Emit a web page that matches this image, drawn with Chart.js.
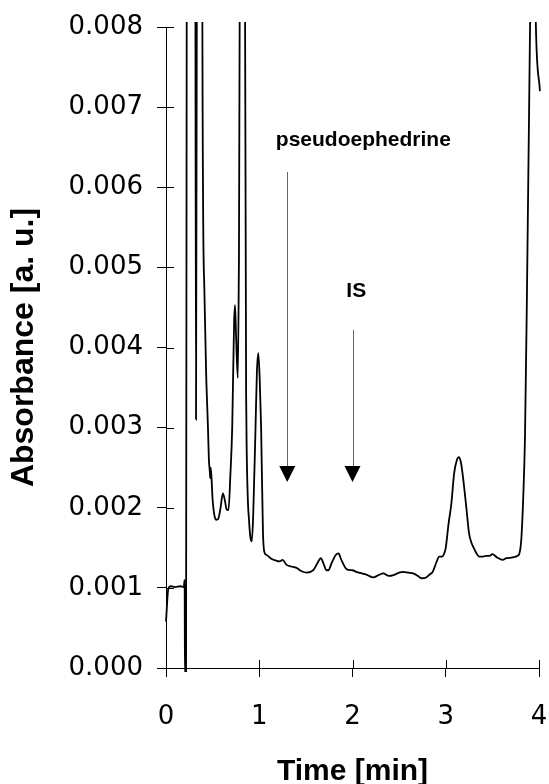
<!DOCTYPE html>
<html>
<head>
<meta charset="utf-8">
<script src="https://cdn.jsdelivr.net/npm/chart.js@4.4.1/dist/chart.umd.min.js"></script>
<style>
  body { margin: 0; background: #fff; }
  canvas { display: block; }
</style>
</head>
<body>
<canvas id="chromChart" width="549" height="784"></canvas>
<script>
// retention time [min] and absorbance [a. u.]
// (values above 0.008 are off-scale peaks)
const timeMin = [
  0, 0.025, 0.05, 0.10, 0.15, 0.19, 0.20, 0.203, 0.215, 0.222, 0.23,
  0.30, 0.316, 0.322, 0.33, 0.34, 0.38, 0.39, 0.41, 0.43, 0.45, 0.46,
  0.47, 0.475, 0.48, 0.50, 0.52, 0.54, 0.56, 0.585, 0.61, 0.63, 0.65,
  0.67, 0.69, 0.71, 0.73, 0.74, 0.75, 0.77, 0.78, 0.79, 0.80, 0.84,
  0.848, 0.862, 0.875, 0.89, 0.905, 0.92, 0.935, 0.96, 0.975, 0.99,
  1.005, 1.02, 1.04, 1.06, 1.08, 1.12, 1.18, 1.22, 1.25, 1.29, 1.33,
  1.40, 1.45, 1.51, 1.58, 1.62, 1.66, 1.69, 1.72, 1.74, 1.78, 1.82,
  1.85, 1.88, 1.94, 2.00, 2.04, 2.10, 2.16, 2.22, 2.28, 2.33, 2.39,
  2.44, 2.50, 2.54, 2.60, 2.65, 2.70, 2.74, 2.79, 2.83, 2.86, 2.90,
  2.93, 2.96, 2.98, 3.00, 3.03, 3.06, 3.09, 3.12, 3.14, 3.16, 3.18,
  3.22, 3.25, 3.28, 3.30, 3.33, 3.36, 3.40, 3.43, 3.47, 3.50, 3.55,
  3.61, 3.65, 3.72, 3.77, 3.79, 3.81, 3.83, 3.85, 3.87, 3.905, 3.935,
  3.965, 4.01
];
const absorbance = [
  0.00058, 0.00099, 0.00102, 0.00101, 0.00102, 0.00101, 0.0011, -0.0001, -0.0001, 0.008, 0.03,
  0.03, 0.008, 0.0031, 0.008, 0.03, 0.03, 0.0081, 0.0048, 0.0037, 0.0030, 0.0026,
  0.00245, 0.00237, 0.0025, 0.0021, 0.0019, 0.00185, 0.00186, 0.0020, 0.00218, 0.0021, 0.00198,
  0.00197, 0.0024, 0.0030, 0.0043, 0.00453, 0.0042, 0.00362, 0.0048, 0.0081, 0.03, 0.03,
  0.0081, 0.0031, 0.0022, 0.00185, 0.00163, 0.00158, 0.0019, 0.0030, 0.0037, 0.00393,
  0.0036, 0.0030, 0.00168, 0.00143, 0.00141, 0.00137, 0.00134, 0.00133, 0.00135, 0.00129, 0.00127,
  0.00125, 0.00121, 0.00119, 0.00122, 0.0013, 0.00137, 0.0013, 0.00122, 0.00122, 0.00132, 0.00141,
  0.00143, 0.00135, 0.00123, 0.00122, 0.0012, 0.00118, 0.00116, 0.00113, 0.00116, 0.00118, 0.00115,
  0.00116, 0.00119, 0.0012, 0.00119, 0.00118, 0.00115, 0.00112, 0.00113, 0.00117, 0.0012, 0.00132,
  0.00139, 0.00139, 0.00142, 0.0015, 0.0018, 0.00205, 0.00243, 0.0026, 0.00263, 0.00258, 0.00243,
  0.00201, 0.00168, 0.00155, 0.0015, 0.00143, 0.00139, 0.00139, 0.0014, 0.0014, 0.00142, 0.00138,
  0.00135, 0.00137, 0.00138, 0.0014, 0.00143, 0.0016, 0.0021, 0.0029, 0.0046, 0.0081, 0.011,
  0.0081, 0.0072
];
const xTicks = [0, 1, 2, 3, 4];
const yTicks = [0, 0.001, 0.002, 0.003, 0.004, 0.005, 0.006, 0.007, 0.008];

// peak markers: label, time of arrow, top of arrow line, label position
const markers = [
  { label: 'pseudoephedrine', t: 1.3, top: 0.00619, textT: 2.116, textY: 0.00659 },
  { label: 'IS', t: 2.0, top: 0.00422, textT: 2.04, textY: 0.0047 }
];
const arrowHeadTop = 0.00252;
const arrowHeadTip = 0.00232;

const points = timeMin.map((t, i) => ({ x: t, y: absorbance[i] }));

// ticks that cross the axis line (inner half)
const innerTicks = {
  id: 'innerTicks',
  afterDraw(chart) {
    const { ctx, chartArea, scales } = chart;
    ctx.save();
    ctx.strokeStyle = '#000';
    ctx.lineWidth = 1;
    ctx.beginPath();
    xTicks.forEach(v => {
      const px = Math.round(scales.x.getPixelForValue(v)) + 0.5;
      ctx.moveTo(px, chartArea.bottom);
      ctx.lineTo(px, chartArea.bottom - 8);
    });
    yTicks.forEach(v => {
      const py = Math.round(scales.y.getPixelForValue(v)) + 0.5;
      ctx.moveTo(chartArea.left, py);
      ctx.lineTo(chartArea.left + 8, py);
    });
    ctx.stroke();
    ctx.restore();
  }
};

const peakArrows = {
  id: 'peakArrows',
  afterDatasetsDraw(chart) {
    const { ctx, scales } = chart;
    ctx.save();
    markers.forEach(m => {
      const px = scales.x.getPixelForValue(m.t);
      const yTop = scales.y.getPixelForValue(m.top);
      const yHead = scales.y.getPixelForValue(arrowHeadTop);
      const yTip = scales.y.getPixelForValue(arrowHeadTip);
      ctx.strokeStyle = '#666';
      ctx.lineWidth = 1;
      ctx.beginPath();
      ctx.moveTo(Math.round(px) + 0.5, yTop);
      ctx.lineTo(Math.round(px) + 0.5, yHead);
      ctx.stroke();
      ctx.fillStyle = '#000';
      ctx.beginPath();
      ctx.moveTo(px - 8, yHead);
      ctx.lineTo(px + 8, yHead);
      ctx.lineTo(px, yTip);
      ctx.closePath();
      ctx.fill();
      ctx.font = 'bold 21px "Liberation Sans", Arial, sans-serif';
      ctx.textAlign = 'center';
      ctx.textBaseline = 'middle';
      ctx.fillText(m.label, scales.x.getPixelForValue(m.textT), scales.y.getPixelForValue(m.textY));
    });
    ctx.restore();
  }
};

const tickFont = { family: '"DejaVu Sans", sans-serif', size: 26 };
const xTitleFont = { family: '"Liberation Sans", Arial, sans-serif', size: 30, weight: 'bold' };
const yTitleFont = { family: '"Liberation Sans", Arial, sans-serif', size: 32, weight: 'bold' };

new Chart(document.getElementById('chromChart').getContext('2d'), {
  type: 'line',
  data: {
    datasets: [{
      data: points,
      borderColor: '#000',
      borderWidth: 1.8,
      pointRadius: 0,
      fill: false,
      cubicInterpolationMode: 'monotone',
      clip: { left: 2, top: 5, right: 2, bottom: 4 }
    }]
  },
  options: {
    responsive: false,
    animation: false,
    layout: { padding: { top: 27, right: 10, bottom: 0, left: 0 } },
    plugins: {
      legend: { display: false },
      tooltip: { enabled: false }
    },
    scales: {
      x: {
        type: 'linear',
        min: 0,
        max: 4,
        afterBuildTicks: scale => { scale.ticks = xTicks.map(v => ({ value: v })); },
        afterFit: scale => {
          scale.height = 116;
          scale.paddingLeft = 0;
          scale.paddingRight = 0;
        },
        border: { color: '#000', width: 1 },
        grid: { drawOnChartArea: false, drawTicks: true, tickLength: 9, color: '#000' },
        ticks: { color: '#000', font: tickFont, padding: 25, maxRotation: 0 },
        title: { display: true, text: 'Time [min]', color: '#000', font: xTitleFont, padding: { top: 0, bottom: -6 } }
      },
      y: {
        type: 'linear',
        min: 0,
        max: 0.008,
        afterBuildTicks: scale => { scale.ticks = yTicks.map(v => ({ value: v })); },
        afterFit: scale => {
          scale.width = 166;
          scale.paddingTop = 0;
          scale.paddingBottom = 0;
        },
        border: { color: '#000', width: 1 },
        grid: { drawOnChartArea: false, drawTicks: true, tickLength: 9, color: '#000' },
        ticks: { color: '#000', font: tickFont, padding: 14, callback: v => v.toFixed(3) },
        title: { display: true, text: 'Absorbance [a. u.]', color: '#000', font: yTitleFont, padding: { top: 5, bottom: 0 } }
      }
    }
  },
  plugins: [innerTicks, peakArrows]
});
</script>
</body>
</html>
